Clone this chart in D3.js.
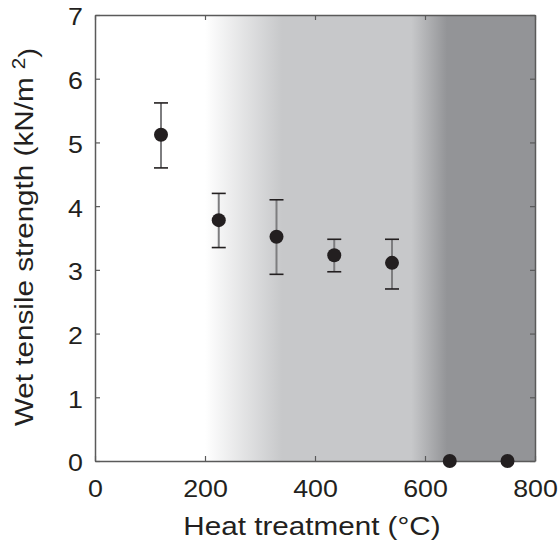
<!DOCTYPE html>
<html>
<head>
<meta charset="utf-8">
<script src="https://cdn.jsdelivr.net/npm/d3@7"></script>
<style>
  body { margin: 0; background: #fff; }
  svg { display: block; font-family: "Liberation Sans", Arial, Helvetica, sans-serif; }
</style>
</head>
<body>
<div id="chart"></div>
<script>
// heat treatment temperature (°C)
const temps = [120, 225, 330, 435, 540, 645, 750];
// wet tensile strength (kN/m^2)
const strength = [5.12, 3.78, 3.52, 3.23, 3.11, 0, 0];
const errLow = [4.6, 3.35, 2.93, 2.97, 2.7, null, null];
const errHigh = [5.62, 4.2, 4.1, 3.48, 3.48, null, null];

const xTicks = [0, 200, 400, 600, 800];
const yTicks = [0, 1, 2, 3, 4, 5, 6, 7];

// background shading, temperatures where the grey tone changes
const shadeTemps = [200, 340, 575, 640];
const shadeTones = ["#ffffff", "#c7c8ca", "#c7c8ca", "#939497"];

const width = 558, height = 542;
const margin = { top: 15, right: 23, bottom: 81, left: 95 };
const w = width - margin.left - margin.right;
const h = height - margin.top - margin.bottom;

// the original lettering is a bit wider than Liberation Sans
const textStretch = 1.14;

const svg = d3.select("#chart").append("svg")
  .attr("width", width)
  .attr("height", height);

const x = d3.scaleLinear().domain([0, 800]).range([0, w]);
const y = d3.scaleLinear().domain([0, 7]).range([h, 0]);

const g = svg.append("g")
  .attr("transform", `translate(${margin.left},${margin.top})`);

// gradient background
const grad = svg.append("defs").append("linearGradient")
  .attr("id", "shade")
  .attr("gradientUnits", "userSpaceOnUse")
  .attr("x1", x(0)).attr("x2", x(800))
  .attr("y1", 0).attr("y2", 0);

grad.selectAll("stop")
  .data(shadeTemps)
  .enter()
  .append("stop")
  .attr("offset", (d) => d / 800)
  .attr("stop-color", (d, i) => shadeTones[i]);

g.append("rect")
  .attr("x", 0).attr("y", 0)
  .attr("width", w).attr("height", h)
  .attr("fill", "url(#shade)");

// axes, ticks point inward, box on all four sides
const axisColor = "#5a5a5a";
const tickLen = 5;

const xAxis = g.append("g")
  .attr("transform", `translate(0,${h})`)
  .call(d3.axisBottom(x).tickValues(xTicks).tickSizeInner(-tickLen).tickSizeOuter(0).tickFormat(d3.format("d")));
const yAxis = g.append("g")
  .call(d3.axisLeft(y).tickValues(yTicks).tickSizeInner(-tickLen).tickSizeOuter(0).tickPadding(12).tickFormat(d3.format("d")));
const xTop = g.append("g")
  .call(d3.axisTop(x).tickValues(xTicks).tickSizeInner(-tickLen).tickSizeOuter(0).tickFormat(""));
const yRight = g.append("g")
  .attr("transform", `translate(${w},0)`)
  .call(d3.axisRight(y).tickValues(yTicks).tickSizeInner(-tickLen).tickSizeOuter(0).tickFormat(""));

[xAxis, yAxis, xTop, yRight].forEach((a) => {
  a.select(".domain").attr("stroke", axisColor).attr("stroke-width", 1.5);
  a.selectAll(".tick line").attr("stroke", axisColor).attr("stroke-width", 1.2);
  a.selectAll(".tick text")
    .attr("fill", "#231f20")
    .style("font-size", "23.5px")
    .style("font-family", "'Liberation Sans', Arial, Helvetica, sans-serif");
});
xAxis.selectAll(".tick text").attr("y", 36).attr("dy", 0);
yAxis.selectAll(".tick text").attr("dy", "0.42em");

// error bars
const pts = temps.map((t, i) => ({ t, v: strength[i], lo: errLow[i], hi: errHigh[i] }));
const withErr = pts.filter((d) => d.lo !== null);

g.selectAll(".err")
  .data(withErr)
  .enter()
  .append("line")
  .attr("class", "err")
  .attr("x1", (d) => x(d.t)).attr("x2", (d) => x(d.t))
  .attr("y1", (d) => y(d.lo)).attr("y2", (d) => y(d.hi))
  .attr("stroke", "#7d7d7f")
  .attr("stroke-width", 2);

const capW = 7;
["lo", "hi"].forEach((k) => {
  g.selectAll(".cap-" + k)
    .data(withErr)
    .enter()
    .append("line")
    .attr("class", "cap-" + k)
    .attr("x1", (d) => x(d.t) - capW).attr("x2", (d) => x(d.t) + capW)
    .attr("y1", (d) => y(d[k])).attr("y2", (d) => y(d[k]))
    .attr("stroke", "#231f20")
    .attr("stroke-width", 1.6);
});

// markers
g.selectAll(".dot")
  .data(pts)
  .enter()
  .append("circle")
  .attr("class", "dot")
  .attr("cx", (d) => x(d.t))
  .attr("cy", (d) => y(d.v))
  .attr("r", 7)
  .attr("fill", "#231f20");

// axis titles
svg.append("text")
  .attr("x", 312)
  .attr("y", 535)
  .attr("text-anchor", "middle")
  .attr("fill", "#231f20")
  .style("font-size", "26px")
  .text("Heat treatment (°C)");

const yt = svg.append("text")
  .attr("transform", "translate(33,237) rotate(-90)")
  .attr("text-anchor", "middle")
  .attr("fill", "#231f20")
  .style("font-size", "26px");
yt.append("tspan").text("Wet tensile strength (kN/m ");
yt.append("tspan").attr("dy", "-0.45em").style("font-size", "18px").text("2");
yt.append("tspan").attr("dy", "0.45em").text(")");

// widen every label along its writing direction
svg.selectAll("text").each(function () {
  const len = this.getComputedTextLength();
  if (len > 0) {
    d3.select(this)
      .attr("textLength", len * textStretch)
      .attr("lengthAdjust", "spacingAndGlyphs");
  }
});
</script>
</body>
</html>
